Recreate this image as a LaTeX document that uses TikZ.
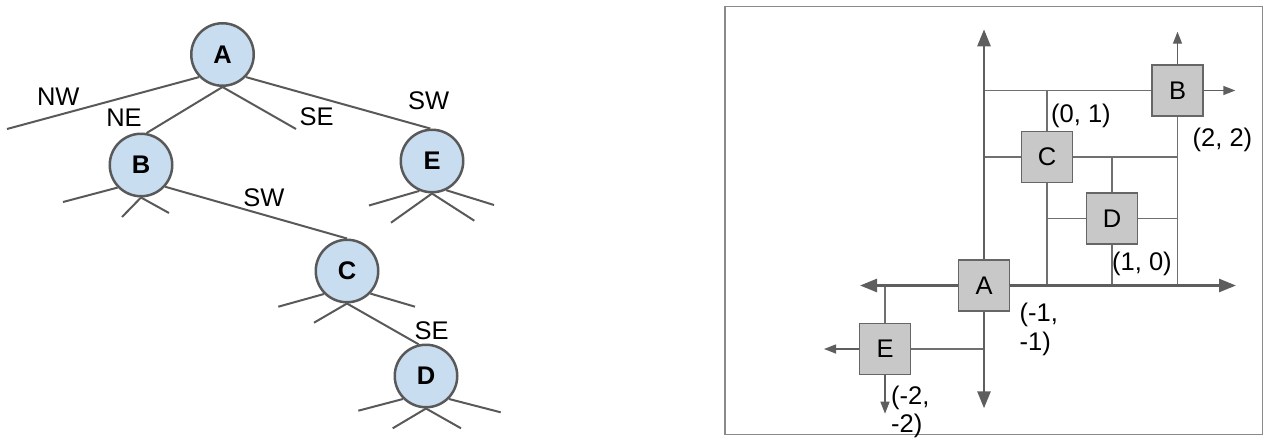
\documentclass[tikz,border=0pt]{standalone}
\usepackage{fontspec}
\setmainfont{Liberation Sans}
\usetikzlibrary{arrows.meta}
\definecolor{edgegray}{HTML}{595959}
\definecolor{nodeblue}{HTML}{C9DDF0}
\definecolor{boxgray}{HTML}{C8C8C8}
\definecolor{boxborder}{HTML}{666666}
\definecolor{axisgray}{HTML}{5E5E5E}
\definecolor{linegray}{HTML}{707070}
\definecolor{framegray}{HTML}{8A8A8A}
\begin{document}
\begin{tikzpicture}[x=1pt,y=-1pt,
  font=\fontsize{25.5}{28.5}\selectfont,
  tnode/.style={circle, draw=edgegray, line width=2.5pt, fill=nodeblue, minimum size=62.5pt, inner sep=0pt, font=\fontsize{25.5}{28.5}\selectfont\bfseries},
  tedge/.style={draw=edgegray, line width=2pt},
  lbl/.style={inner sep=0pt},
  coordlbl/.style={inner sep=0pt, anchor=base west, align=left},
  qbox/.style={rectangle, draw=boxborder, line width=1.3pt, fill=boxgray, minimum size=51pt, inner sep=0pt},
  axisarrow/.style={draw=axisgray, line width=2.6pt, -{Triangle[length=17pt,width=13pt]}},
  thinarrow/.style={draw=axisgray, line width=1.4pt, -{Triangle[length=12pt,width=9pt]}},
  gridline/.style={draw=linegray, line width=1.3pt},
]
\useasboundingbox (0,0) rectangle (1271,442);

% ---------------- left: tree ----------------
\node[tnode] (A) at (222.5,54.5) {A};
\node[tnode] (B) at (141,165) {B};
\node[tnode] (E) at (432,161) {E};
\node[tnode] (C) at (347,271) {C};
\node[tnode] (D) at (426,376) {D};

\coordinate (nwA) at (7,129);
\coordinate (seA) at (296,129);
\coordinate (lB) at (63,202);
\coordinate (vlB) at (122,217);
\coordinate (vrB) at (169,213);
\coordinate (lE) at (369,205.5);
\coordinate (rE) at (494,205);
\coordinate (vlE) at (391,222.7);
\coordinate (vrE) at (474.3,220.7);
\coordinate (lC) at (278.3,306.7);
\coordinate (rC) at (415,306.7);
\coordinate (vlC) at (314,322.7);
\coordinate (lD) at (358.3,410.7);
\coordinate (rD) at (500.7,412.3);
\coordinate (vlD) at (392.7,428.3);
\coordinate (vrD) at (461,428.3);

\draw[tedge] (A.-136) -- (nwA);
\draw[tedge] (A.south) -- (B.80);
\draw[tedge] (A.south) -- (seA);
\draw[tedge] (A.-44) -- (E.93);

\draw[tedge] (B.-136) -- (lB);
\draw[tedge] (B.south) -- (vlB);
\draw[tedge] (B.south) -- (vrB);
\draw[tedge] (B.-42) -- (C.north);

\draw[tedge] (E.-113) -- (lE);
\draw[tedge] (E.-64) -- (rE);
\draw[tedge] (E.south) -- (vlE);
\draw[tedge] (E.south) -- (vrE);

\draw[tedge] (C.-135) -- (lC);
\draw[tedge] (C.-44) -- (rC);
\draw[tedge] (C.south) -- (vlC);
\draw[tedge] (C.south) -- (D.103);

\draw[tedge] (D.-135) -- (lD);
\draw[tedge] (D.-45) -- (rD);
\draw[tedge] (D.south) -- (vlD);
\draw[tedge] (D.south) -- (vrD);

\node[lbl] (lNW) at (58.3,97) {NW};
\node[lbl] (lNE) at (124,117.7) {NE};
\node[lbl] (lSE) at (316.7,116.5) {SE};
\node[lbl] (lSW) at (428.7,101) {SW};
\node[lbl] (lSWb) at (264,198) {SW};
\node[lbl] (lSEc) at (431.7,330.3) {SE};

% ---------------- right: quadtree plane ----------------
\draw[framegray, line width=1.3pt] (725,6.3) rectangle (1262.7,434.3);

\node[qbox] (QA) at (984,285.5) {A};
\node[qbox] (QB) at (1177.5,90.5) {B};
\node[qbox] (QC) at (1047,157) {C};
\node[qbox] (QD) at (1112,218.5) {D};
\node[qbox] (QE) at (885,349) {E};

\coordinate (vtop) at (984,29.3);
\coordinate (vbot) at (984,408.3);
\coordinate (hleft) at (860,285.5);
\coordinate (hright) at (1236,285.5);
\coordinate (Bup) at (1177.5,31.7);
\coordinate (Bright) at (1235.3,90.5);
\coordinate (Eleft) at (824,349);
\coordinate (Edown) at (885,413.7);

% grid lines
\draw[gridline] (QA |- QB) -- (QB.west);
\draw[gridline] (QB.south) -- (QB |- QA);
\draw[gridline] (QA |- QC) -- (QC.west);
\draw[gridline] (QC.east) -- (QB |- QC);
\draw[gridline] (QC.north) -- (QC |- QB);
\draw[gridline] (QC.south) -- (QC |- QA);
\draw[gridline] (QC |- QD) -- (QD.west);
\draw[gridline] (QD.east) -- (QB |- QD);
\draw[gridline] (QD.north) -- (QD |- QC);
\draw[gridline] (QD.south) -- (QD |- QA);
\draw[gridline] (QE.north) -- (QE |- QA);
\draw[gridline] (QE.east) -- (QA |- QE);

% axes
\draw[axisarrow] (QA.north) -- (vtop);
\draw[axisarrow] (QA.south) -- (vbot);
\draw[axisarrow] (QA.west) -- (hleft);
\draw[axisarrow] (QA.east) -- (hright);

% thin arrows
\draw[thinarrow] (QB.north) -- (Bup);
\draw[thinarrow] (QB.east) -- (Bright);
\draw[thinarrow] (QE.west) -- (Eleft);
\draw[thinarrow] (QE.south) -- (Edown);

% coordinate labels
\node[coordlbl] (t01) at (1051,122) {(0, 1)};
\node[coordlbl] (t22) at (1192.5,146.3) {(2, 2)};
\node[coordlbl] (t10) at (1112,270.6) {(1, 0)};
\node[coordlbl] (tm1) at (1019.5,350) {(-1,\\-1)};
\node[coordlbl] (tm2) at (891,432.5) {(-2,\\-2)};
\end{tikzpicture}
\end{document}
